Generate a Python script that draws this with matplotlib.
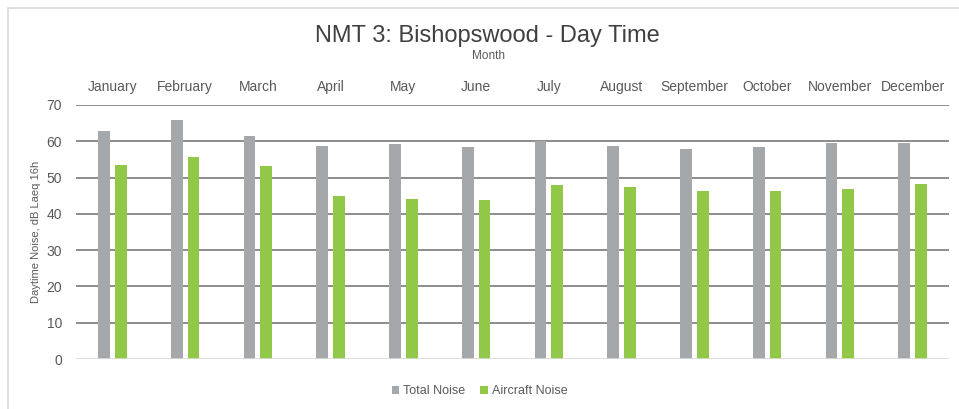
"""
NMT 3: Bishopswood - daytime monthly noise, total vs aircraft.
"""
import matplotlib.pyplot as plt
import numpy as np
from matplotlib.patches import Rectangle

plt.rcParams["font.family"] = ["Liberation Sans", "DejaVu Sans"]

# Data
months = ["January", "February", "March", "April", "May", "June",
          "July", "August", "September", "October", "November", "December"]
total_noise = [62.7, 65.8, 61.4, 58.7, 59.2, 58.5, 60.1, 58.7, 58.0, 58.5, 59.6, 59.6]
aircraft_noise = [53.5, 55.7, 53.3, 45.0, 44.0, 43.8, 47.9, 47.5, 46.4, 46.4, 46.8, 48.2]

GREY = "#A5A8AB"
GREEN = "#92C848"
TEXT = "#595959"

fig = plt.figure(figsize=(9.59, 4.09), dpi=100)
ax = fig.add_axes([0.0793, 0.1222, 0.9103, 0.6211])

x = np.arange(len(months))
w = 0.16
ax.bar(x - 0.115, total_noise, w, color=GREY, label="Total Noise", zorder=3)
ax.bar(x + 0.115, aircraft_noise, w, color=GREEN, label="Aircraft Noise", zorder=3)

ax.set_xlim(-0.5, len(months) - 0.5)
ax.set_ylim(0, 70)
ax.set_yticks(range(0, 71, 10))

# gridlines (drawn under the bars), light zero line
for v in range(10, 71, 10):
    ax.axhline(v, color="#8C8C8C", linewidth=1.4, zorder=1)
ax.axhline(0, color="#D9D9D9", linewidth=1.2, zorder=4)

ax.xaxis.tick_top()
ax.set_xticks(x)
ax.set_xticklabels(months)
ax.tick_params(axis="x", length=0, pad=8, labelsize=10, labelcolor=TEXT)
ax.tick_params(axis="y", length=0, pad=10, labelsize=10, labelcolor=TEXT)
for s in ax.spines.values():
    s.set_visible(False)

ax.set_ylabel("Daytime Noise, dB Laeq 16h", fontsize=8, color=TEXT, labelpad=4)

fig.text(0.508, 0.912, "NMT 3: Bishopswood - Day Time", ha="center", va="center",
         fontsize=17, color="#404040")
fig.text(0.509, 0.862, "Month", ha="center", va="center", fontsize=8.5, color=TEXT)

fig.legend(loc="center", bbox_to_anchor=(0.5, 0.044), ncol=2, frameon=False,
           fontsize=9, labelcolor=TEXT, handlelength=0.6, handleheight=0.6,
           handletextpad=0.3, columnspacing=1.2)

# chart frame (only left/top visible in the crop)
fig.patches.append(Rectangle((0.008, -0.1), 1.1, 1.08, transform=fig.transFigure,
                             fill=False, edgecolor="#D9D9D9", linewidth=1.2))

fig.savefig("out.png", dpi=100)
